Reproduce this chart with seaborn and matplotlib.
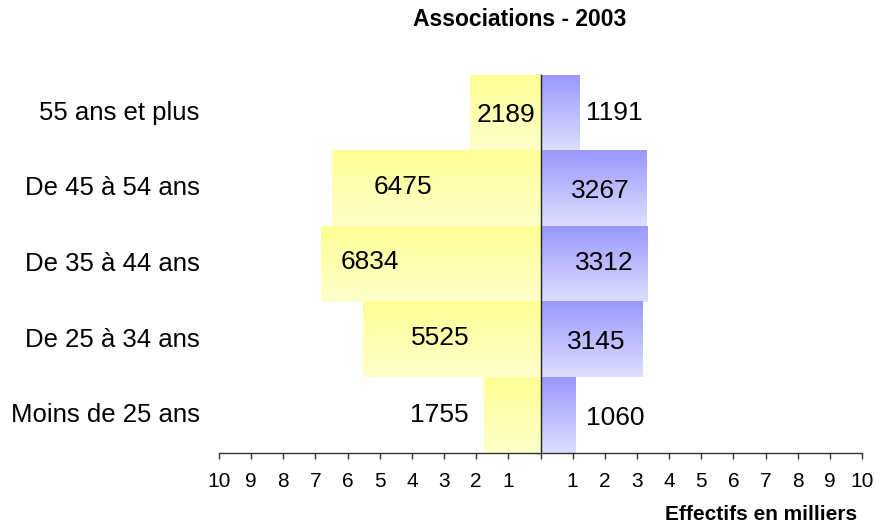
import numpy as np
import matplotlib
matplotlib.use("Agg")
import matplotlib.pyplot as plt
import seaborn as sns

# Data (effectifs, in units; axis shows thousands)
categories = ["55 ans et plus", "De 45 à 54 ans", "De 35 à 44 ans",
              "De 25 à 34 ans", "Moins de 25 ans"]
left_values = [2189, 6475, 6834, 5525, 1755]
right_values = [1191, 3267, 3312, 3145, 1060]
x_ticks = list(range(-10, 11))

# Label placement (thousands on x, category units on y), as in the original
left_label_x = [-1.06, -4.29, -5.30, -3.11, -3.14]
right_label_x = [2.30, 1.85, 1.98, 1.74, 2.32]
left_label_dy = [0.03, -0.02, -0.02, -0.02, 0.0]
right_label_dy = [0.0, 0.03, -0.01, 0.03, 0.04]

sns.set_theme(style="white")
plt.rcParams["font.family"] = ["Liberation Sans", "DejaVu Sans"]
plt.rcParams["text.color"] = "black"

YELLOW_TOP, YELLOW_BOTTOM = (1.0, 1.0, 0.58), (1.0, 1.0, 0.80)
BLUE_TOP, BLUE_BOTTOM = (0.60, 0.60, 1.0), (0.87, 0.87, 1.0)


def gradientBars(ax, patches, top, bottom):
    ''' Replaces flat bar patches with a vertical gradient image '''
    grad = np.linspace(0, 1, 64)[:, None, None]
    img = np.array(top)[None, None, :] * (1 - grad) + np.array(bottom)[None, None, :] * grad
    for p in patches:
        x0, y0, w, h = p.get_x(), p.get_y(), p.get_width(), p.get_height()
        xa, xb = sorted([x0, x0 + w])
        ya, yb = sorted([y0, y0 + h])
        ax.imshow(img, extent=[xa, xb, yb, ya], origin="upper",
                  aspect="auto", zorder=1, interpolation="bilinear")
        p.set_visible(False)


fig = plt.figure(figsize=(8.75, 5.25), dpi=100)
ax = fig.add_axes([219 / 875, 1 - 453 / 525, 643 / 875, 378 / 525])

left_k = [-v / 1000 for v in left_values]
right_k = [v / 1000 for v in right_values]

sns.barplot(x=left_k, y=categories, orient="h", width=1.0, color="yellow", ax=ax)
n_left = len(ax.patches)
sns.barplot(x=right_k, y=categories, orient="h", width=1.0, color="blue", ax=ax)
gradientBars(ax, ax.patches[:n_left], YELLOW_TOP, YELLOW_BOTTOM)
gradientBars(ax, ax.patches[n_left:], BLUE_TOP, BLUE_BOTTOM)

ax.set_xlim(-10, 10)
ax.set_ylim(len(categories) - 0.5, -0.5)

# Spines: bottom axis + centre vertical line
for s in ("top", "right"):
    ax.spines[s].set_visible(False)
ax.spines["left"].set_position(("data", 0))
ax.spines["left"].set_color("#222222")
ax.spines["left"].set_linewidth(1.0)
ax.spines["left"].set_zorder(3)
ax.spines["bottom"].set_color("#333333")
ax.spines["bottom"].set_linewidth(1.0)

ax.set_xticks(x_ticks, labels=["" if t == 0 else str(abs(t)) for t in x_ticks])
ax.tick_params(axis="x", bottom=True, direction="out", length=4, width=1,
               color="#333333", pad=10, labelsize=15, labelcolor="black")
bounds = np.arange(len(categories) + 1) - 0.5
ax.set_yticks(bounds, labels=[""] * len(bounds))
ax.tick_params(axis="y", left=True, direction="out", length=4, width=1, color="#555555")
ax.set_xlabel("")
ax.set_ylabel("")

for i, cat in enumerate(categories):
    ax.text(-0.03, i, cat, transform=ax.get_yaxis_transform(),
            ha="right", va="center", fontsize=18.5, color="black")
    ax.text(left_label_x[i], i + left_label_dy[i], str(left_values[i]),
            ha="center", va="center", fontsize=19, color="black", zorder=4)
    ax.text(right_label_x[i], i + right_label_dy[i], str(right_values[i]),
            ha="center", va="center", fontsize=19, color="black", zorder=4)

fig.text(520 / 875, 1 - 19 / 525, "Associations - 2003", ha="center", va="center",
         fontsize=16.5, fontweight="bold", color="black")
fig.text(857 / 875, 1 - 514 / 525, "Effectifs en milliers", ha="right", va="center",
         fontsize=15, fontweight="bold", color="black")

fig.savefig("out.png", dpi=100, facecolor="white")
